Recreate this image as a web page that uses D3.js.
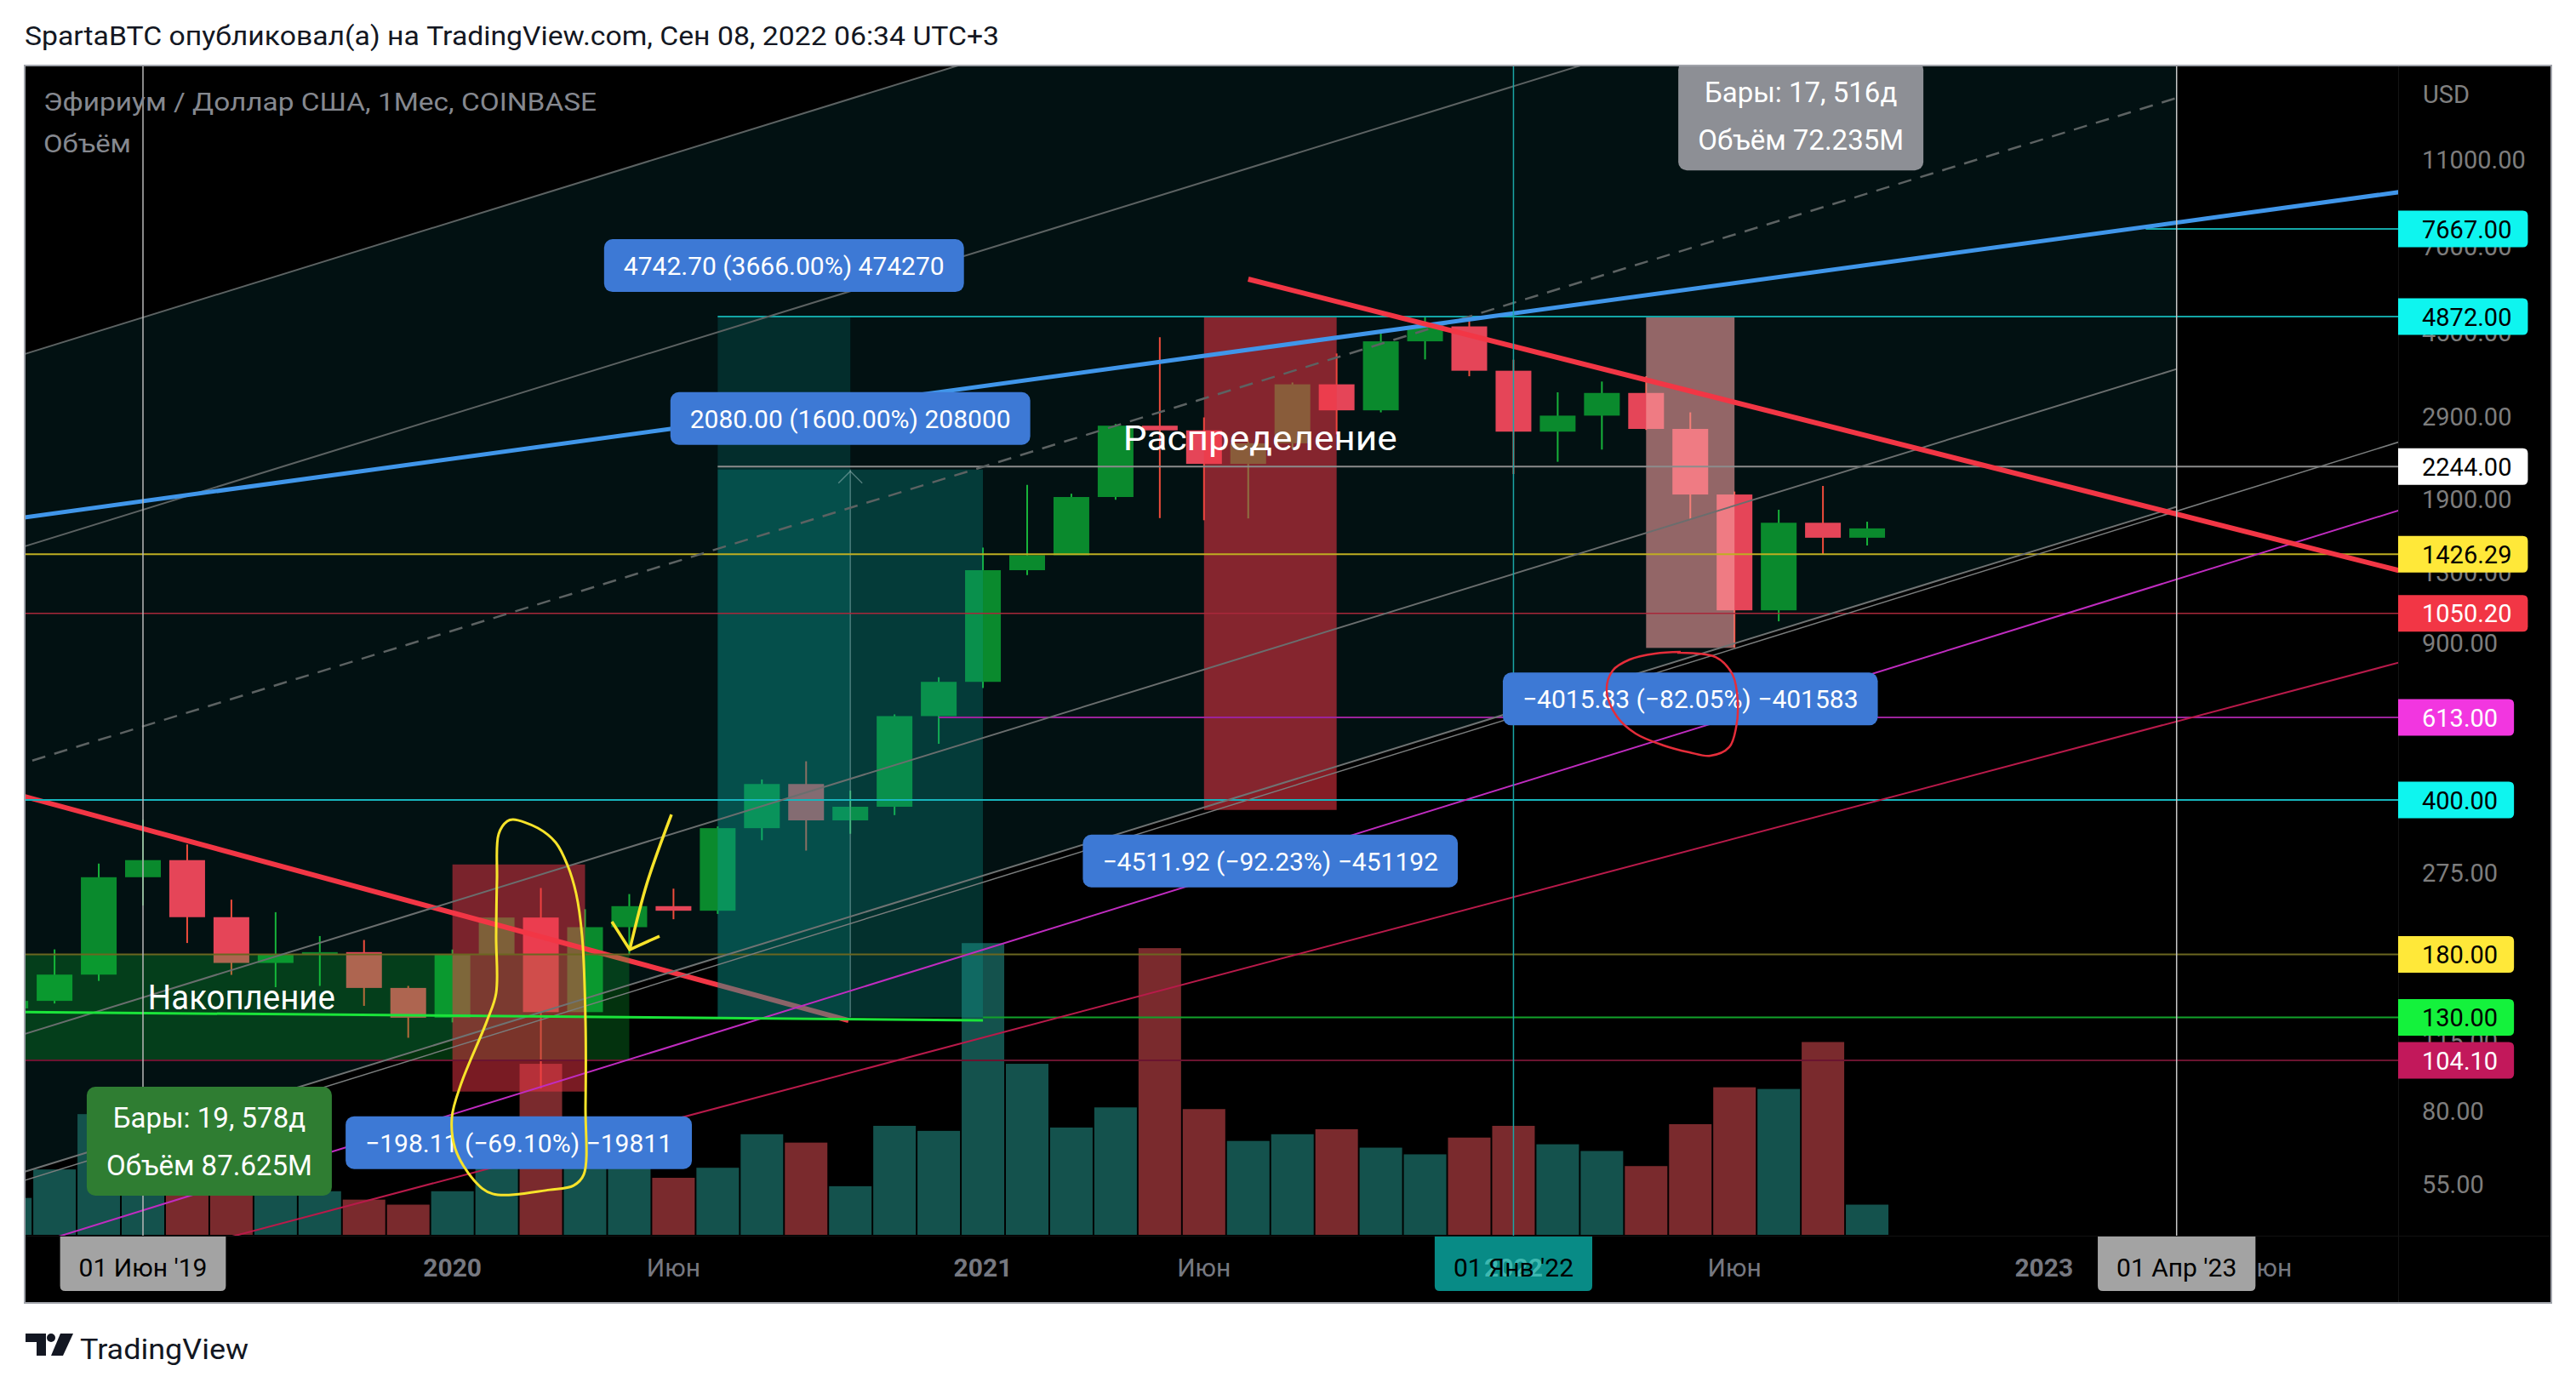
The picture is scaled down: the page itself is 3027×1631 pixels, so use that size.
<!DOCTYPE html>
<html>
<head>
<meta charset="utf-8">
<title>ETH/USD 1M</title>
<script src="https://cdn.jsdelivr.net/npm/d3@7/dist/d3.min.js"></script>
<style>
html,body{margin:0;padding:0;background:#ffffff;overflow:hidden;}
svg{display:block;}
text{font-family:Roboto,"Noto Sans","DejaVu Sans",sans-serif;}
</style>
</head>
<body>
<svg id="chart" width="3027" height="1631"></svg>
<script>
// ---------------- DATA ----------------
const firstBarIndex = -3; // bar index 0 = June 2019
const months = ["2019-03","2019-04","2019-05","2019-06","2019-07","2019-08","2019-09","2019-10","2019-11","2019-12",
  "2020-01","2020-02","2020-03","2020-04","2020-05","2020-06","2020-07","2020-08","2020-09","2020-10","2020-11","2020-12",
  "2021-01","2021-02","2021-03","2021-04","2021-05","2021-06","2021-07","2021-08","2021-09","2021-10","2021-11","2021-12",
  "2022-01","2022-02","2022-03","2022-04","2022-05","2022-06","2022-07","2022-08","2022-09"];
const open  = [136.2,141.6,162.2,268.4,293.2,218.3,172.3,180.1,182.2,151.4,129.8,179.9,217.9,133.6,207.3,231.1,225.7,345.9,434.6,360.1,386.4,617.4,737.1,1313,1419,1917,2772,2706,2275,2531,3433,3001,4288,4632,3683,2688,2920,3283,2726,1942,1067,1678,1553];
const high  = [148.5,184.8,288,361.4,318,239,224,198,194,153,184.7,288.4,253.8,227.5,246,253,349,445,488.8,420,623,755,1476,2041,1950,2797,4380,2893,2551,3466,4027,4461,4868,4778,3900,3294,3483,3580,2970,1972,1795,2030,1687];
const low   = [128,139.7,157,232,191,162,152,153,138,117,126.7,179,90,128,180,216,222,325,308,336,370,535,714,1281,1547,1890,1719,1700,1716,2453,2651,2970,3905,3580,2159,2300,2450,2712,1702,880,1008,1422,1492];
const close = [141.6,162.2,268.4,293.2,218.3,172.3,180.1,182.2,151.4,129.8,179.9,217.9,133.6,207.3,231.1,225.7,345.9,434.6,360.1,386.4,617.4,737.1,1313,1419,1917,2772,2706,2275,2531,3433,3001,4288,4632,3683,2688,2920,3283,2726,1942,1067,1678,1553,1630];
const volumeM = [2.2,3.9,7.2,6.1,5.6,4.1,2.8,2.6,2.1,1.8,2.6,4.9,10.2,5.6,4.5,3.4,4.0,6.0,5.5,2.9,6.5,6.2,17.4,10.2,6.4,7.6,17.1,7.5,5.6,6.0,6.3,5.2,4.8,5.8,6.5,5.4,5.0,4.1,6.6,8.8,8.7,11.5,1.8];

const priceTicks = [11000, 7000, 4500, 2900, 1900, 1300, 900, 275, 115, 80, 55];
const levelPrices = [7667, 4872, 2244, 1426.29, 1050.20, 613, 400, 180, 130, 104.10];
const levelFrom   = [45.3, 13, 13, -3, -3, 18, -3, -3, 19, -3];
const levelText   = ["7667.00","4872.00","2244.00","1426.29","1050.20","613.00","400.00","180.00","130.00","104.10"];

const timeTickIndex = [7, 12, 19, 24, 31, 36, 43, 48];
const timeTickText  = ["2020","Июн","2021","Июн","2022","Июн","2023","Июн"];
const markerIndex = [0, 31, 46];
const markerText  = ["01 Июн '19","01 Янв '22","01 Апр '23"];
const verticalLineIndex = [0, 31, 46];

// trend lines: [[barIndex, price], [barIndex, price]]
const channelTop    = [[-3, 3925], [46, 125100]];
const channelMid    = [[-3, 473.7], [46, 15095]];
const channelBottom = [[-3, 57.2], [46, 1822]];
const grayLineA     = [[-3, 1452], [46, 46270]];
const grayLineB     = [[-3, 116.6], [46, 3716]];
const grayRay       = [[-3, 54.7], [51.5, 2635]];
const blueLine      = [[-3, 1708], [51.5, 9414]];
const redLine1      = [[-3, 415.6], [15.96, 128]];
const redLine2      = [[25, 5914], [51.5, 1276]];
const greenLine     = [[-3, 133.8], [19, 128]];
const magentaLine   = [[-3, 38.75], [51.5, 1850]];
const crimsonLine   = [[-3, 30.9], [51.5, 838]];

// price ranges
const rangeFrom  = [13, 13, 7, 24, 34];
const rangeTo    = [16, 19, 10, 27, 36];
const rangeStart = [129.37, 130, 286.70, 4892.0, 4894.3];
const rangeEnd   = [4872.07, 2210, 88.59, 380.08, 878.5];
const rangeLabel = ["4742.70 (3666.00%) 474270","2080.00 (1600.00%) 208000","−198.11 (−69.10%) −19811","−4511.92 (−92.23%) −451192","−4015.83 (−82.05%) −401583"];

// date ranges
const dateRangeFrom = [-8, 29];
const dateRangeTo   = [11, 46];
const dateRangeHigh = [180, 40000];
const dateRangeLow  = [104.1, 20900];
const dateRangeLine1 = ["Бары: 19, 578д", "Бары: 17, 516д"];
const dateRangeLine2 = ["Объём 87.625M", "Объём 72.235M"];

const zoneLabels = ["Накопление", "Распределение"];
const zoneIndex  = [2.23, 25.27];
const zonePrice  = [144.2, 2597];

// freehand drawings [barIndex, price]
const yellowLoop = [[8.373,361.6],[8.932,346.1],[9.336,321.1],[9.605,285.2],[9.798,246.6],[9.933,197.9],[10.01,127.4],[10.01,82.1],[9.971,57.7],[9.74,54.5],[9.201,53.3],[7.911,52.2],[7.488,56.0],[7.065,65.9],[6.988,77.5],[7.199,92.4],[7.777,127.4],[7.988,147.4],[7.988,197.9],[8.008,265.8],[8.046,335.6],[8.239,358.4]];
const yellowArrowShaft = [[11.954,371.3],[11.40,260],[11.011,184.5]];
const yellowArrowHead  = [[10.606,213.3],[11.011,184.5],[11.684,197.9]];
const redLoop = [[34.706,856.7],[35.573,838.1],[35.958,764.3],[36.073,666.7],[36.035,581.8],[35.881,525.9],[35.457,503.0],[34.976,512.0],[34.398,530.5],[33.763,564.1],[33.34,616.0],[33.109,703.0],[33.244,781.3],[33.628,827.2],[34.206,853.1],[34.783,860.6]];

// ---------------- CHART ----------------
const svg = d3.select("#chart");
const PANE = {l: 29, r: 2818, t: 77, b: 1452};
const AXIS_R = 2998, TIME_B = 1531;
const BAR = 51.95;

const x = d3.scaleLinear().domain([0, 46]).range([168, 168 + 46 * BAR]);
const y = d3.scaleLog().domain([55, 11000]).range([1391, 187]);
const yVol = d3.scaleLinear().domain([0, 20]).range([PANE.b - 1, PANE.b - 1 - 394]);
const pt = p => [x(p[0]), y(p[1])];

svg.append("rect").attr("width", 3027).attr("height", 1631).attr("fill", "#ffffff");
svg.append("rect").attr("x", PANE.l).attr("y", PANE.t).attr("width", AXIS_R - PANE.l).attr("height", TIME_B - PANE.t).attr("fill", "#000000");

const defs = svg.append("defs");
defs.append("clipPath").attr("id", "pane").append("rect")
  .attr("x", PANE.l).attr("y", PANE.t).attr("width", PANE.r - PANE.l).attr("height", PANE.b - PANE.t);
const g = svg.append("g").attr("clip-path", "url(#pane)");

// channel fill
g.append("path")
  .attr("d", "M" + [pt(channelTop[0]), pt(channelTop[1]), pt(channelBottom[1]), pt(channelBottom[0])].map(p => p.join(",")).join("L") + "Z")
  .attr("fill", "#021112");

const bars = open.map((o, k) => ({i: firstBarIndex + k, m: months[k], o, h: high[k], l: low[k], c: close[k], v: volumeM[k]}));

// volume
g.selectAll("rect.vol").data(bars).join("rect").attr("class", "vol")
  .attr("x", d => x(d.i) - 25).attr("width", 50)
  .attr("y", d => yVol(d.v)).attr("height", d => yVol(0) - yVol(d.v))
  .attr("fill", d => d.c >= d.o ? "#14524d" : "#7a2a2d");

// candles
g.selectAll("line.wick").data(bars).join("line").attr("class", "wick")
  .attr("x1", d => x(d.i)).attr("x2", d => x(d.i))
  .attr("y1", d => y(d.h)).attr("y2", d => y(d.l))
  .attr("stroke", d => d.c >= d.o ? "#17b33a" : "#ef4c3c").attr("stroke-width", 2);
g.selectAll("rect.body").data(bars).join("rect").attr("class", "body")
  .attr("x", d => x(d.i) - 21).attr("width", 42)
  .attr("y", d => y(Math.max(d.o, d.c)))
  .attr("height", d => Math.max(3, y(Math.min(d.o, d.c)) - y(Math.max(d.o, d.c))))
  .attr("fill", d => d.c >= d.o ? "#0a8a2d" : "#e54558");

function drawLine(parent, pts, color, width, dash) {
  const l = parent.append("path").attr("d", d3.line()(pts.map(pt)))
    .attr("fill", "none").attr("stroke", color).attr("stroke-width", width);
  if (dash) l.attr("stroke-dasharray", dash);
  return l;
}

drawLine(g, redLine1, "#f23645", 6);

// date range fills
const dateFill = ["rgba(10,200,55,0.25)", "rgba(150,150,160,0.2)"];
dateRangeFrom.forEach((f, k) => {
  g.append("rect").attr("x", x(f)).attr("width", x(dateRangeTo[k]) - x(f))
    .attr("y", y(dateRangeHigh[k])).attr("height", y(dateRangeLow[k]) - y(dateRangeHigh[k]))
    .attr("fill", dateFill[k]);
});

// price range fills
const rangeFill = ["rgba(10,160,150,0.2)", "rgba(10,160,150,0.3)", "rgba(242,54,69,0.5)", "rgba(242,54,69,0.55)", "rgba(245,160,160,0.6)"];
rangeFrom.forEach((f, k) => {
  const top = Math.max(rangeStart[k], rangeEnd[k]), bot = Math.min(rangeStart[k], rangeEnd[k]);
  g.append("rect").attr("x", x(f)).attr("width", x(rangeTo[k]) - x(f))
    .attr("y", y(top)).attr("height", y(bot) - y(top)).attr("fill", rangeFill[k]);
});
// arrow of the 2080 range
{
  const cx = x((rangeFrom[1] + rangeTo[1]) / 2), yt = y(rangeEnd[1]), yb = y(rangeStart[1]);
  g.append("line").attr("x1", cx).attr("x2", cx).attr("y1", yt).attr("y2", yb).attr("stroke", "rgba(160,190,190,0.45)").attr("stroke-width", 1.5);
  g.append("path").attr("d", `M${cx - 14},${yt + 16}L${cx},${yt + 2}L${cx + 14},${yt + 16}`).attr("fill", "none").attr("stroke", "rgba(160,190,190,0.5)").attr("stroke-width", 1.5);
}

// horizontal levels
const levelColor = ["#14a8a8", "#13a5a5", "#8c8c8c", "#bfae22", "#a8283a", "#9b239b", "#17b5bd", "#6b6620", "#12a12a", "#6b1430"];
const levelWidth = [2, 2, 2, 2, 1.5, 2, 2, 2, 2, 2];
levelPrices.forEach((p, k) => {
  g.append("line").attr("x1", x(levelFrom[k])).attr("x2", PANE.r).attr("y1", y(p)).attr("y2", y(p))
    .attr("stroke", levelColor[k]).attr("stroke-width", levelWidth[k]);
});

// trend lines
drawLine(g, channelTop, "#5c6262", 2);
drawLine(g, grayLineA, "#5c6262", 2);
drawLine(g, channelMid, "#5c6262", 2.5, "16,11");
drawLine(g, grayLineB, "#6a6e6e", 2);
drawLine(g, channelBottom, "#6f7373", 2);
drawLine(g, grayRay, "#7a7d7d", 1.5);
drawLine(g, magentaLine, "#c02cc0", 2);
drawLine(g, crimsonLine, "#b81a4a", 2);
drawLine(g, greenLine, "#1be43a", 3);
drawLine(g, blueLine, "#4096ea", 5);
drawLine(g, redLine2, "#f23645", 6);

// vertical lines
const vColor = ["#b8b8b8", "#1aa5a5", "#c8c8c8"];
verticalLineIndex.forEach((i, k) => {
  g.append("line").attr("x1", x(i)).attr("x2", x(i)).attr("y1", PANE.t).attr("y2", PANE.b)
    .attr("stroke", vColor[k]).attr("stroke-width", 1.5);
});

// range labels
rangeFrom.forEach((f, k) => {
  const cx = x((f + rangeTo[k]) / 2);
  const up = rangeEnd[k] > rangeStart[k];
  const h = 62;
  const top = up ? y(rangeEnd[k]) - 29 - h : y(rangeEnd[k]) + 29;
  const lg = g.append("g");
  const r = lg.append("rect").attr("fill", "#3d79d5").attr("rx", 10);
  const t = lg.append("text").attr("x", cx).attr("y", top + h / 2 + 11).attr("text-anchor", "middle")
    .attr("font-size", 30).attr("fill", "#ffffff").text(rangeLabel[k]);
  const w = t.node().getComputedTextLength() + 46;
  r.attr("x", cx - w / 2).attr("y", top).attr("width", w).attr("height", h);
});

// date range labels
const dateBg = ["#2f7d32", "#8d8f95"];
dateRangeFrom.forEach((f, k) => {
  const cx = x((f + dateRangeTo[k]) / 2);
  const top = y(dateRangeLow[k]) + 31, w = 288, h = 128;
  g.append("rect").attr("x", cx - w / 2).attr("y", top).attr("width", w).attr("height", h).attr("rx", 10).attr("fill", dateBg[k]);
  g.append("text").attr("x", cx).attr("y", top + 36 + 12).attr("text-anchor", "middle").attr("font-size", 33).attr("fill", "#ffffff").text(dateRangeLine1[k]);
  g.append("text").attr("x", cx).attr("y", top + 92 + 12).attr("text-anchor", "middle").attr("font-size", 33).attr("fill", "#ffffff").text(dateRangeLine2[k]);
});

// freehand
g.append("path").attr("d", d3.line().curve(d3.curveCatmullRomClosed)(yellowLoop.map(pt)))
  .attr("fill", "none").attr("stroke", "#f7e32a").attr("stroke-width", 3);
g.append("path").attr("d", d3.line().curve(d3.curveCatmullRom)(yellowArrowShaft.map(pt)))
  .attr("fill", "none").attr("stroke", "#f7e32a").attr("stroke-width", 3.5);
g.append("path").attr("d", d3.line()(yellowArrowHead.map(pt)))
  .attr("fill", "none").attr("stroke", "#f7e32a").attr("stroke-width", 3.5).attr("stroke-linejoin", "round");
g.append("path").attr("d", d3.line().curve(d3.curveCatmullRom)(redLoop.map(pt)))
  .attr("fill", "none").attr("stroke", "#e52d3a").attr("stroke-width", 2.5);

// zone labels
const zoneLen = [220, 322];
zoneLabels.forEach((s, k) => {
  g.append("text").attr("x", x(zoneIndex[k])).attr("y", y(zonePrice[k]) + 14).attr("text-anchor", "middle")
    .attr("font-size", 40).attr("fill", "#ffffff")
    .attr("textLength", zoneLen[k]).attr("lengthAdjust", "spacingAndGlyphs").text(s);
});

// legend
svg.append("text").attr("x", 51).attr("y", 130).attr("font-size", 30).attr("fill", "#85888f")
  .attr("textLength", 650).attr("lengthAdjust", "spacingAndGlyphs").text("Эфириум / Доллар США, 1Мес, COINBASE");
svg.append("text").attr("x", 51).attr("y", 179).attr("font-size", 30).attr("fill", "#85888f")
  .attr("textLength", 103).attr("lengthAdjust", "spacingAndGlyphs").text("Объём");

// ---------------- PRICE AXIS ----------------
svg.append("line").attr("x1", PANE.r + 0.5).attr("x2", PANE.r + 0.5).attr("y1", PANE.t).attr("y2", TIME_B).attr("stroke", "#141414");
svg.append("text").attr("x", 2847).attr("y", 121).attr("font-size", 29).attr("fill", "#808080").text("USD");
priceTicks.forEach(p => {
  svg.append("text").attr("x", 2846).attr("y", y(p) + 10.5).attr("font-size", 29).attr("fill", "#7d7d7d").text(d3.format(".2f")(p));
});
const levelBg = ["#0ef5ef", "#0ef5ef", "#ffffff", "#ffe839", "#f23645", "#f236e0", "#0ef5ef", "#ffe839", "#14f23c", "#c2185b"];
const levelFg = ["#000", "#000", "#000", "#000", "#fff", "#fff", "#000", "#000", "#000", "#fff"];
function rightRounded(x0, y0, w, h, r) {
  return `M${x0},${y0}H${x0 + w - r}Q${x0 + w},${y0} ${x0 + w},${y0 + r}V${y0 + h - r}Q${x0 + w},${y0 + h} ${x0 + w - r},${y0 + h}H${x0}Z`;
}
levelPrices.forEach((p, k) => {
  const lg = svg.append("g");
  const bx = lg.append("path").attr("fill", levelBg[k]);
  const t = lg.append("text").attr("x", 2846).attr("y", y(p) + 10.5).attr("font-size", 29).attr("fill", levelFg[k]).text(levelText[k]);
  const w = 28 + t.node().getComputedTextLength() + 19;
  bx.attr("d", rightRounded(PANE.r, y(p) - 21.5, w, 43, 6));
});

// ---------------- TIME AXIS ----------------
svg.append("line").attr("x1", PANE.l).attr("x2", AXIS_R).attr("y1", PANE.b + 0.5).attr("y2", PANE.b + 0.5).attr("stroke", "#111111");
timeTickIndex.forEach((i, k) => {
  if (markerIndex.includes(i)) return; // drawn inside the marker label
  const isYear = /^\d{4}$/.test(timeTickText[k]);
  svg.append("text").attr("x", x(i)).attr("y", 1500).attr("text-anchor", "middle").attr("font-size", 30)
    .attr("font-weight", isYear ? "bold" : "normal").attr("fill", "#767880").text(timeTickText[k]);
});
function bottomRounded(x0, y0, w, h, r) {
  return `M${x0},${y0}H${x0 + w}V${y0 + h - r}Q${x0 + w},${y0 + h} ${x0 + w - r},${y0 + h}H${x0 + r}Q${x0},${y0 + h} ${x0},${y0 + h - r}Z`;
}
const markerBg = ["#a3a3a3", "#088b86", "#a3a3a3"];
markerIndex.forEach((i, k) => {
  const lg = svg.append("g");
  const bx = lg.append("path").attr("fill", markerBg[k]);
  const tickK = timeTickIndex.indexOf(i);
  if (tickK >= 0) {
    lg.append("text").attr("x", x(i)).attr("y", 1500).attr("text-anchor", "middle").attr("font-size", 30)
      .attr("font-weight", "bold").attr("fill", "rgba(110,225,215,0.55)").text(timeTickText[tickK]);
  }
  const t = lg.append("text").attr("x", x(i)).attr("y", 1500).attr("text-anchor", "middle").attr("font-size", 30)
    .attr("fill", "#000000").text(markerText[k]);
  const w = t.node().getComputedTextLength() + 44;
  bx.attr("d", bottomRounded(x(i) - w / 2, PANE.b + 1, w, 64, 6));
});

// border
svg.append("rect").attr("x", PANE.l).attr("y", PANE.t).attr("width", AXIS_R - PANE.l).attr("height", TIME_B - PANE.t)
  .attr("fill", "none").attr("stroke", "#a0a3aa").attr("stroke-width", 2);

// ---------------- HEADER / FOOTER ----------------
svg.append("text").attr("x", 29).attr("y", 53).attr("font-size", 31).attr("fill", "#131722")
  .attr("textLength", 1145).attr("lengthAdjust", "spacingAndGlyphs")
  .text("SpartaBTC опубликовал(а) на TradingView.com, Сен 08, 2022 06:34 UTC+3");
const logo = svg.append("g").attr("fill", "#131722");
logo.append("path").attr("d", "M30,1567H54V1593H43V1577H30Z");
logo.append("circle").attr("cx", 60).attr("cy", 1572).attr("r", 5);
logo.append("path").attr("d", "M71,1567H86L74,1593H60Z");
svg.append("text").attr("x", 94).attr("y", 1597).attr("font-size", 34).attr("fill", "#131722")
  .attr("textLength", 198).attr("lengthAdjust", "spacingAndGlyphs").text("TradingView");
</script>
</body>
</html>
